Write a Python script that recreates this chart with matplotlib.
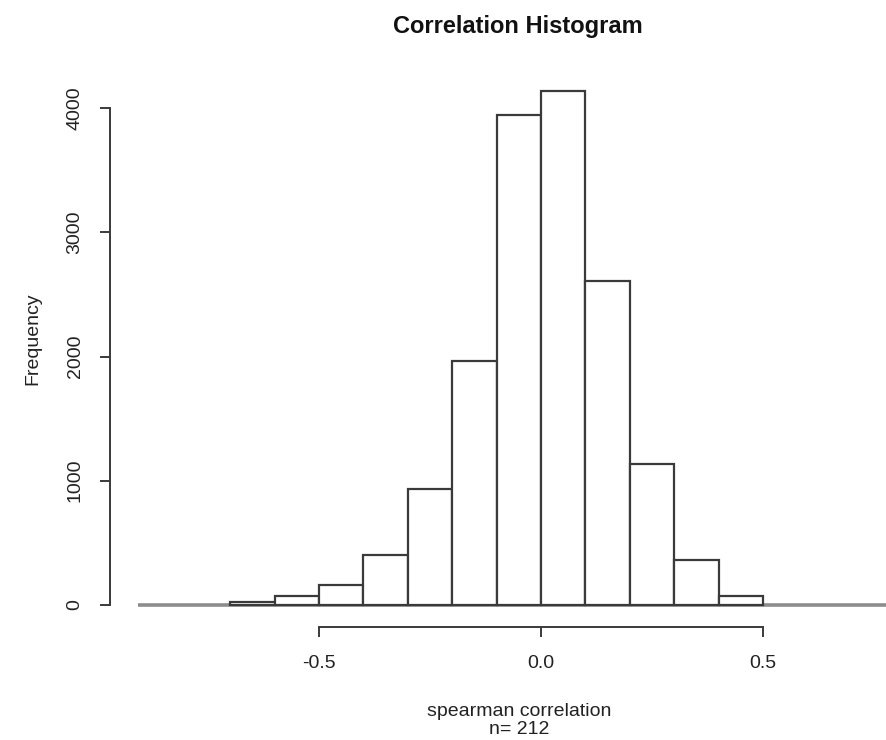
import matplotlib
matplotlib.use("Agg")
import matplotlib.pyplot as plt

plt.rcParams['font.family'] = ['Liberation Sans', 'DejaVu Sans']

# histogram of spearman correlations, bin width 0.1
bin_left = [-0.7, -0.6, -0.5, -0.4, -0.3, -0.2, -0.1, 0.0, 0.1, 0.2, 0.3, 0.4]
counts = [25, 72, 162, 400, 935, 1965, 3940, 4135, 2605, 1135, 362, 72]
bin_width = 0.1
xticks = [-0.5, 0.0, 0.5]
yticks = [0, 1000, 2000, 3000, 4000]

W, H = 886, 740
fig = plt.figure(figsize=(W / 100, H / 100), dpi=100)

# axes placed in pixels: y spine at x=110, x spine at y=627
ax_left, ax_right, ax_top, ax_bottom = 110, 886, 80, 627
ax = fig.add_axes([ax_left / W, 1 - ax_bottom / H,
                   (ax_right - ax_left) / W, (ax_bottom - ax_top) / H])

# pixel -> data mapping
px_per_x = 444.0   # pixels per 1.0 correlation
x0_px = 541.0      # pixel of 0.0
px_per_y = 497.0 / 4000
y0_px = 605.0

ax.set_xlim((ax_left - x0_px) / px_per_x, (ax_right - x0_px) / px_per_x)
ax.set_ylim((y0_px - ax_bottom) / px_per_y, (y0_px - ax_top) / px_per_y)

# zero-height baseline across the empty bins
ax.plot([(138 - x0_px) / px_per_x, (ax_right - x0_px) / px_per_x], [0, 0],
        color='#8c8c8c', lw=2.6, solid_capstyle='butt', zorder=1)

ax.bar(bin_left, counts, width=bin_width, align='edge',
       facecolor='white', edgecolor='#3a3a3a', linewidth=1.6, zorder=2)

for s in ['top', 'right']:
    ax.spines[s].set_visible(False)
ax.spines['left'].set_bounds(0, 4000)
ax.spines['bottom'].set_bounds(-0.5, 0.5)
for s in ['left', 'bottom']:
    ax.spines[s].set_color('#3a3a3a')
    ax.spines[s].set_linewidth(1.4)

ax.set_xticks(xticks)
ax.set_xticklabels(['-0.5', '0.0', '0.5'])
ax.set_yticks(yticks)
ax.set_yticklabels([str(v) for v in yticks], rotation=90, va='center')
ax.tick_params(axis='x', length=7, width=1.4, color='#3a3a3a', pad=13,
               labelsize=14, labelcolor='#222222')
ax.tick_params(axis='y', length=7, width=1.4, color='#3a3a3a', pad=12,
               labelsize=14, labelcolor='#222222')

fig.text(518 / W, 1 - 26 / H, 'Correlation Histogram', ha='center', va='center',
         fontsize=17, fontweight='bold', color='#111111')
fig.text(519 / W, 1 - 712 / H, 'spearman correlation', ha='center',
         va='center', fontsize=14, color='#222222')
fig.text(519 / W, 1 - 729 / H, 'n= 212', ha='center',
         va='center', fontsize=14, color='#222222')
fig.text(33 / W, 1 - 339 / H, 'Frequency', rotation=90, ha='center',
         va='center', fontsize=14, color='#222222')

fig.savefig('out.png', dpi=100)
